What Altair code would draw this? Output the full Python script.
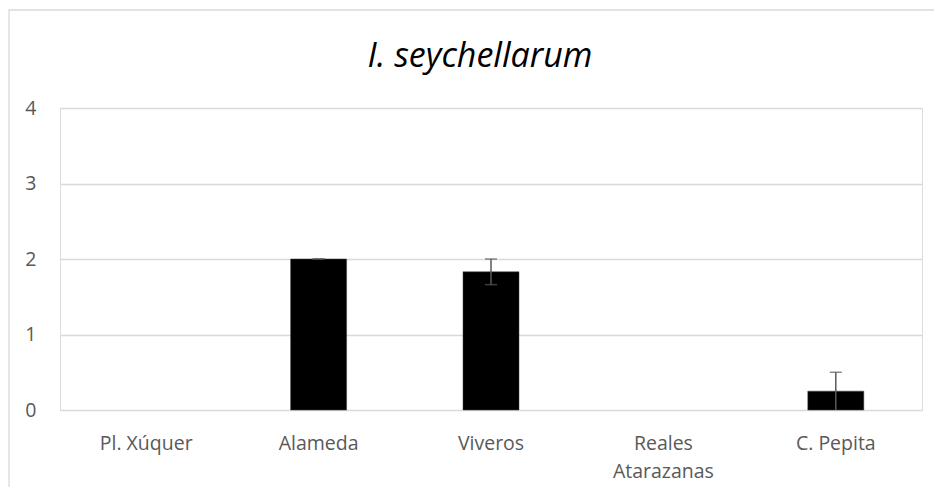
import altair as alt
import pandas as pd

categories = ["Pl. Xúquer", "Alameda", "Viveros", "Reales|Atarazanas", "C. Pepita"]
means = [0.0, 2.0, 1.83, 0.0, 0.25]
errors = [0.0, 0.0, 0.17, 0.0, 0.25]
y_ticks = [0, 1, 2, 3, 4]

df = pd.DataFrame({"site": categories, "mean": means, "err": errors})
df["lo"] = (df["mean"] - df["err"]).clip(lower=0)
df["hi"] = df["mean"] + df["err"]

FONT = "Open Sans"
GRAY = "#595959"
GRID = "#d9d9d9"

x = alt.X("site:N", sort=categories, title=None,
          scale=alt.Scale(paddingInner=0, paddingOuter=0),
          axis=alt.Axis(labelAngle=0, labelExpr="split(datum.label, '|')",
                        labelFont=FONT, labelFontSize=19.5, labelColor=GRAY,
                        labelPadding=24, labelLineHeight=28, ticks=False, domain=False,
                        grid=False))
y = alt.Y("mean:Q", title=None,
          scale=alt.Scale(domain=[0, 4], nice=False),
          axis=alt.Axis(values=y_ticks, format="d", labelFont=FONT, labelFontSize=19.5,
                        labelColor=GRAY, labelPadding=24, ticks=False, domain=False,
                        gridColor=GRID, gridWidth=1.3))

bars = alt.Chart(df).mark_bar(size=56, color="black", stroke="#404040", strokeWidth=0.5).encode(
    x=x, y=y, opacity=alt.condition("datum.mean > 0", alt.value(1), alt.value(0)))

err_df = df[df["mean"] > 0]
rules = alt.Chart(err_df).mark_rule(color=GRAY, strokeWidth=1.5).encode(
    x=alt.X("site:N", sort=categories), y="lo:Q", y2="hi:Q")
caps_hi = alt.Chart(err_df).mark_tick(color=GRAY, size=12, thickness=1.5, orient="horizontal").encode(
    x=alt.X("site:N", sort=categories), y="hi:Q")
caps_lo = alt.Chart(err_df[err_df["lo"] > 0]).mark_tick(color=GRAY, size=12, thickness=1.5, orient="horizontal").encode(
    x=alt.X("site:N", sort=categories), y="lo:Q")

frame = alt.Chart(df.head(1)).mark_rect(fill=None, stroke=GRID, strokeWidth=1.3, clip=False).encode(
    x=alt.value(-51), x2=alt.value(1000), y=alt.value(-98), y2=alt.value(600))

chart = alt.layer(frame, bars, rules, caps_hi, caps_lo).properties(
    width=862, height=302,
    autosize=alt.AutoSizeParams(type="none"),
    padding={"left": 52, "top": 100, "right": 12, "bottom": 77},
    title=alt.TitleParams("I. seychellarum", font=FONT, fontSize=34, fontStyle="italic",
                          fontWeight="normal", color="black", anchor="middle", dx=-11,
                          offset=0, dy=65),
).configure_view(stroke=GRID, strokeWidth=1.3).configure(background="white")

chart.save("out.html", embed_options={"renderer": "svg", "actions": False})
